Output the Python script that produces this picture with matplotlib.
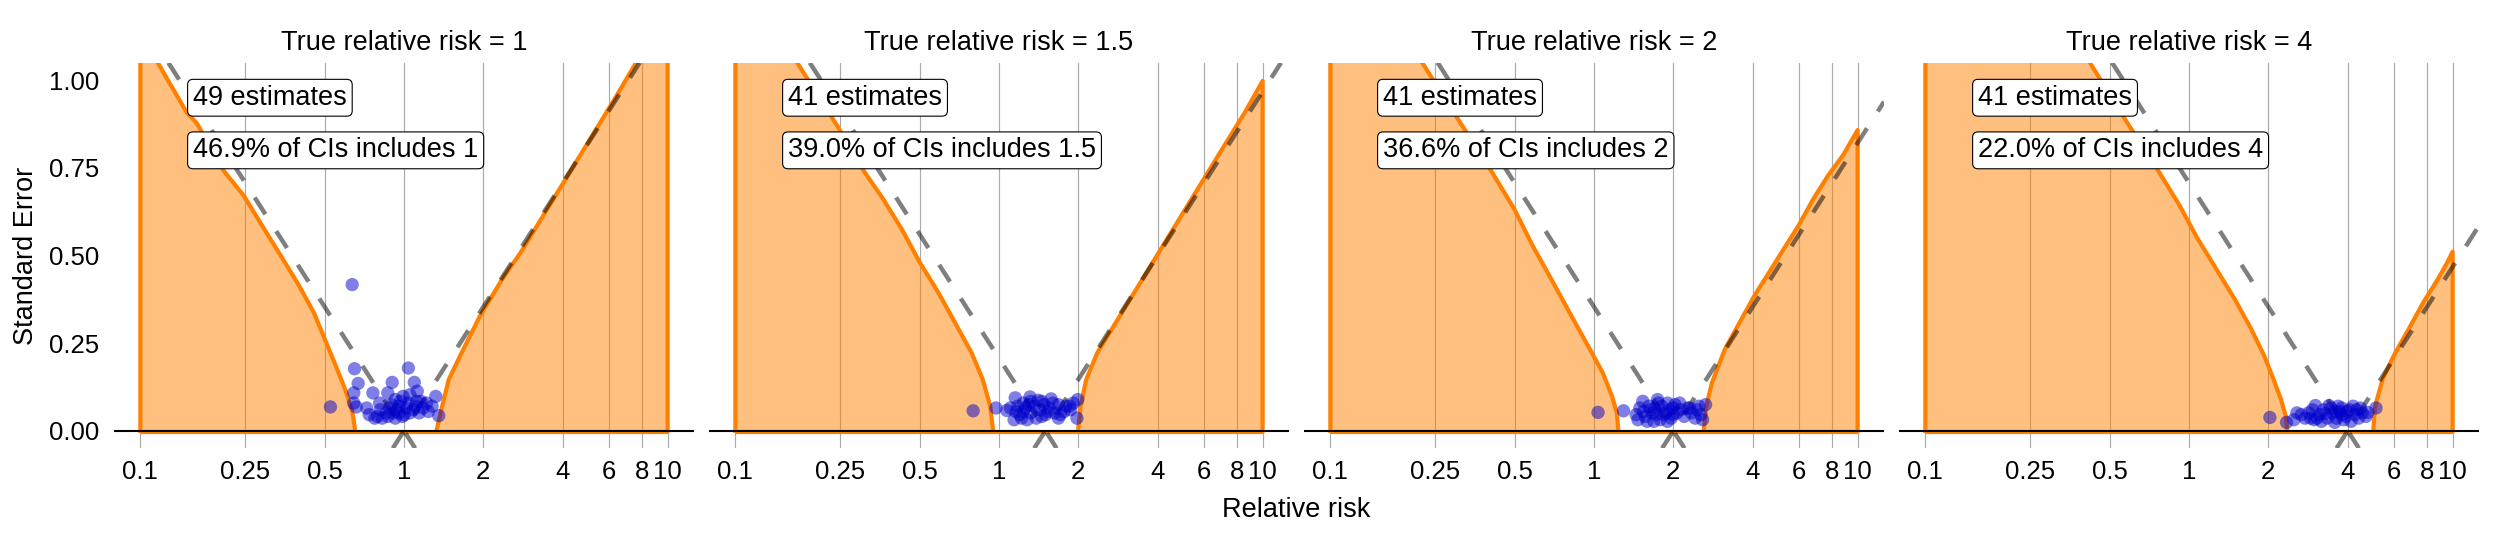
import numpy as np
import matplotlib
matplotlib.use("Agg")
import matplotlib.pyplot as plt
from matplotlib.ticker import NullLocator, FixedLocator, FixedFormatter

plt.rcParams['font.family'] = ['Liberation Sans', 'DejaVu Sans']

# ---------------- data ----------------
true_rr = [1, 1.5, 2, 4]
titles = ["True relative risk = 1", "True relative risk = 1.5",
          "True relative risk = 2", "True relative risk = 4"]
n_labels = ["49 estimates", "41 estimates", "41 estimates", "41 estimates"]
pct_labels = ["46.9% of CIs includes 1", "39.0% of CIs includes 1.5",
              "36.6% of CIs includes 2", "22.0% of CIs includes 4"]

x_breaks = [0.1, 0.25, 0.5, 1, 2, 4, 6, 8, 10]
x_break_labels = ["0.1", "0.25", "0.5", "1", "2", "4", "6", "8", "10"]
y_breaks = [0.0, 0.25, 0.5, 0.75, 1.0]
y_break_labels = ["0.00", "0.25", "0.50", "0.75", "1.00"]

# estimates (relative risk, standard error)
rr_1 = [0.636, 0.526, 0.649, 0.670, 0.645, 0.645, 0.659, 0.722, 0.762, 0.902,
        0.868, 1.039, 1.094, 1.123, 1.116, 1.320, 1.355, 1.278, 0.793, 0.775,
        0.813, 0.854, 0.896, 0.926, 0.956, 0.971, 0.991, 1.020, 1.053, 1.087,
        1.141, 1.179, 1.218, 1.237, 0.868, 0.926, 0.827, 1.003, 1.036, 0.940,
        1.160, 0.911, 1.053, 0.956, 0.808, 0.882, 1.105, 0.738, 0.987]
se_1 = [0.417, 0.068, 0.177, 0.135, 0.108, 0.079, 0.068, 0.065, 0.108, 0.138,
        0.108, 0.179, 0.138, 0.113, 0.084, 0.098, 0.043, 0.070, 0.041, 0.036,
        0.060, 0.051, 0.074, 0.089, 0.070, 0.084, 0.098, 0.065, 0.051, 0.060,
        0.051, 0.065, 0.079, 0.055, 0.041, 0.036, 0.036, 0.046, 0.079, 0.060,
        0.084, 0.051, 0.103, 0.051, 0.079, 0.065, 0.070, 0.046, 0.041]

rr_15 = [0.798, 0.974, 1.070, 1.152, 1.237, 1.311, 1.408, 1.576, 1.681, 1.852,
         1.989, 1.976, 1.870, 1.141, 1.198, 1.257, 1.320, 1.363, 1.431, 1.478,
         1.502, 1.551, 1.628, 1.709, 1.765, 1.218, 1.278, 1.385, 1.454, 1.105,
         1.179, 1.300, 1.602, 1.913, 1.320, 1.454, 1.530, 1.681, 1.237, 1.160,
         1.794]
se_15 = [0.057, 0.065, 0.058, 0.094, 0.079, 0.0965, 0.087, 0.091, 0.0745, 0.070,
         0.089, 0.036, 0.060, 0.0315, 0.046, 0.065, 0.051, 0.070, 0.060, 0.0745,
         0.046, 0.065, 0.051, 0.046, 0.055, 0.036, 0.0315, 0.036, 0.041, 0.065,
         0.070, 0.0745, 0.079, 0.079, 0.084, 0.084, 0.055, 0.036, 0.055, 0.055,
         0.070]

rr_2 = [1.036, 1.294, 1.531, 1.742, 1.901, 2.114, 2.306, 2.650, 2.582, 1.468,
        1.566, 1.643, 1.725, 1.811, 1.870, 1.963, 1.995, 2.061, 2.198, 2.344,
        2.461, 2.542, 1.617, 1.687, 1.782, 1.541, 1.445, 1.931, 1.753, 2.270,
        1.670, 1.840, 2.128, 2.420, 1.492, 1.900, 2.027, 1.700, 2.500, 1.590,
        1.995]
se_2 = [0.0525, 0.057, 0.084, 0.089, 0.079, 0.079, 0.065, 0.0745, 0.0315, 0.0315,
        0.041, 0.060, 0.046, 0.070, 0.051, 0.036, 0.065, 0.051, 0.041, 0.051,
        0.060, 0.046, 0.070, 0.027, 0.0315, 0.055, 0.046, 0.060, 0.079, 0.065,
        0.051, 0.046, 0.060, 0.036, 0.065, 0.027, 0.0745, 0.065, 0.070, 0.027,
        0.046]

rr_4 = [2.027, 2.344, 2.566, 2.754, 3.016, 3.397, 3.800, 4.190, 4.770, 5.120,
        2.844, 2.987, 3.135, 3.236, 3.344, 3.510, 3.625, 3.743, 3.930, 4.058,
        4.260, 4.400, 4.540, 2.667, 2.940, 3.060, 3.450, 3.680, 3.990, 4.330,
        3.865, 3.180, 3.570, 4.120, 3.290, 2.890, 4.690, 4.470, 3.625, 3.800,
        2.500]
se_4 = [0.038, 0.024, 0.051, 0.036, 0.072, 0.072, 0.065, 0.070, 0.0525, 0.065,
        0.051, 0.0315, 0.046, 0.060, 0.036, 0.051, 0.036, 0.055, 0.041, 0.060,
        0.046, 0.036, 0.051, 0.046, 0.060, 0.036, 0.065, 0.070, 0.055, 0.060,
        0.0315, 0.027, 0.024, 0.027, 0.049, 0.036, 0.041, 0.065, 0.055, 0.046,
        0.0315]

# calibrated boundaries: left and right curves
left_rr_1 = [0.1154, 0.1493, 0.1638, 0.2064, 0.2465, 0.2897, 0.3404, 0.3999,
             0.455, 0.501, 0.552, 0.599, 0.638, 0.653]
left_se_1 = [1.055, 0.910, 0.877, 0.743, 0.671, 0.585, 0.500, 0.414,
             0.337, 0.261, 0.184, 0.117, 0.051, 0.0]
right_rr_1 = [1.328, 1.385, 1.478, 1.654, 1.944, 2.360, 2.773, 3.258, 3.828,
              4.498, 5.285, 6.21, 7.66]
right_se_1 = [0.0, 0.060, 0.146, 0.2225, 0.328, 0.433, 0.509, 0.595, 0.681,
              0.767, 0.853, 0.939, 1.055]

left_rr_15 = [0.170, 0.2425, 0.309, 0.363, 0.427, 0.501, 0.589, 0.692, 0.787,
              0.868, 0.926, 0.950]
left_se_15 = [1.055, 0.872, 0.738, 0.662, 0.576, 0.480, 0.394, 0.299, 0.2225,
              0.146, 0.070, 0.0]
right_rr_15 = [1.995, 2.040, 2.142, 2.360, 2.773, 3.258, 3.828, 4.498, 5.285,
               6.21, 7.30, 8.59, 10.0]
right_se_15 = [0.0, 0.070, 0.146, 0.2225, 0.3085, 0.394, 0.480, 0.566, 0.652,
               0.738, 0.824, 0.910, 0.998]

left_rr_2 = [0.221, 0.312, 0.410, 0.498, 0.585, 0.688, 0.808, 0.950, 1.080,
             1.171, 1.221, 1.237]
left_se_2 = [1.055, 0.877, 0.738, 0.633, 0.528, 0.433, 0.337, 0.2415, 0.165,
             0.098, 0.051, 0.0]
right_rr_2 = [2.608, 2.667, 2.80, 3.135, 3.566, 4.058, 4.617, 5.25, 5.97,
              6.80, 7.74, 8.80, 10.0]
right_se_2 = [0.0, 0.070, 0.1366, 0.232, 0.3085, 0.385, 0.452, 0.519, 0.5855,
              0.662, 0.729, 0.786, 0.858]

left_rr_4 = [0.417, 0.585, 0.770, 0.920, 1.080, 1.270, 1.492, 1.725, 1.931,
             2.094, 2.234, 2.33, 2.36]
left_se_4 = [1.055, 0.877, 0.738, 0.643, 0.547, 0.461, 0.375, 0.289, 0.213,
             0.146, 0.089, 0.041, 0.0]
right_rr_4 = [5.00, 5.08, 5.42, 5.97, 6.80, 7.74, 8.80, 9.54, 10.0]
right_se_4 = [0.0, 0.070, 0.146, 0.213, 0.289, 0.366, 0.433, 0.480, 0.511]

points = [(rr_1, se_1), (rr_15, se_15), (rr_2, se_2), (rr_4, se_4)]
bounds = [(left_rr_1, left_se_1, right_rr_1, right_se_1),
          (left_rr_15, left_se_15, right_rr_15, right_se_15),
          (left_rr_2, left_se_2, right_rr_2, right_se_2),
          (left_rr_4, left_se_4, right_rr_4, right_se_4)]

# ---------------- style / layout ----------------
W, H = 2496, 537
DPI = 100
fig = plt.figure(figsize=(W / DPI, H / DPI), dpi=DPI)

panel_lefts = [114, 709, 1304, 1899]
panel_w = 580
panel_bottom = 537 - 448.3
panel_h = 448.3 - 62.7

fill_col = (1.0, 0.5, 0.0, 0.5)
line_col = (1.0, 0.5, 0.0)
pt_col = (0.0, 0.0, 0.8)
z975 = 1.959964

for i in range(4):
    ax = fig.add_axes([panel_lefts[i] / W, panel_bottom / H, panel_w / W, panel_h / H])
    ax.set_xscale('log')
    ax.set_xlim(10 ** -1.1, 10 ** 1.1)
    ax.set_ylim(-0.05, 1.05)
    for s in ax.spines.values():
        s.set_visible(False)
    ax.set_facecolor('white')

    for b in x_breaks:
        ax.axvline(b, color='#AAAAAA', lw=0.85, zorder=1)

    lrr, lse, rrr, rse = bounds[i]
    # left region
    lx = [x_breaks[0], x_breaks[0]] + lrr
    ly = [0.0, lse[0]] + lse
    ax.fill(lx, ly, facecolor=fill_col, edgecolor='none', zorder=2)
    ax.plot(lx, ly, color=line_col, lw=3.0, zorder=3, solid_joinstyle='round')
    # right region
    rx = list(rrr)
    ry = list(rse)
    rx += [x_breaks[-1], x_breaks[-1]]
    ry += [rse[-1], 0.0]
    ax.fill(rx, ry, facecolor=fill_col, edgecolor='none', zorder=2)
    ax.plot(rx, ry, color=line_col, lw=3.0, zorder=3, solid_joinstyle='round')
    ax.plot([x_breaks[0], x_breaks[-1]], [-0.003, -0.003], color=line_col, lw=3.0,
            zorder=3, solid_capstyle='butt')

    t = true_rr[i]
    for sgn in (1, -1):
        ax.axline((t, 0.0), (t * np.exp(sgn * z975), 1.0), color=(0, 0, 0, 0.5),
                  lw=3.2, dashes=(4.5, 4.5), zorder=4)

    ax.axhline(0, color='black', lw=1.5, zorder=5)

    px, py = points[i]
    ax.scatter(px, py, s=92, color=pt_col, alpha=0.5, edgecolors='none', zorder=6)

    pad = 0.2
    fs_lab = 19.5
    for lab, yv in ((n_labels[i], 0.95), (pct_labels[i], 0.80)):
        ax.annotate(lab, xy=(0.15, yv), xytext=(pad * fs_lab + 0.6, 0),
                    textcoords='offset points', ha='left', va='center',
                    fontsize=fs_lab, zorder=10,
                    bbox=dict(boxstyle='round,pad=%g,rounding_size=0.2' % pad,
                              fc='white', ec='black', lw=0.8))

    ax.xaxis.set_major_locator(FixedLocator(x_breaks))
    ax.xaxis.set_major_formatter(FixedFormatter(x_break_labels))
    ax.xaxis.set_minor_locator(NullLocator())
    ax.tick_params(axis='x', length=0, pad=8.5, labelsize=18.5, colors='black')
    if i == 0:
        ax.yaxis.set_major_locator(FixedLocator(y_breaks))
        ax.yaxis.set_major_formatter(FixedFormatter(y_break_labels))
        ax.tick_params(axis='y', length=0, pad=10.8, labelsize=18.5)
    else:
        ax.set_yticks([])

    cx = (panel_lefts[i] + panel_w / 2) / W
    fig.text(cx, (537 - 50) / H, titles[i], ha='center', va='baseline', fontsize=19.5)

fig.text(26 / W, (537 - 255.5) / H, 'Standard Error', rotation=90,
         ha='center', va='center', fontsize=19.5)
fig.text(1296.5 / W, 20 / H, 'Relative risk', ha='center', va='baseline', fontsize=19.5)

fig.savefig('out.png', dpi=DPI, facecolor='white')
